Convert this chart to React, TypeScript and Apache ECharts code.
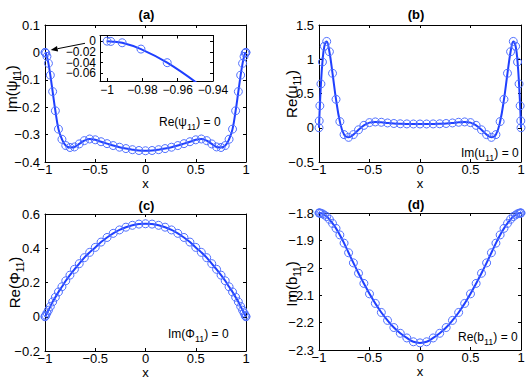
import React, { useEffect, useRef } from 'react';
import * as echarts from 'echarts';

// Collocation abscissae (shared by all panels)
const X = [-1, -0.99786, -0.99144, -0.98079, -0.96593, -0.94693, -0.92388, -0.89687, -0.86603, -0.83147, -0.79335, -0.75184, -0.70711, -0.65935, -0.60876, -0.55557, -0.5, -0.44229, -0.38268, -0.32144, -0.25882, -0.19509, -0.13053, -0.0654, 0, 0.0654, 0.13053, 0.19509, 0.25882, 0.32144, 0.38268, 0.44229, 0.5, 0.55557, 0.60876, 0.65935, 0.70711, 0.75184, 0.79335, 0.83147, 0.86603, 0.89687, 0.92388, 0.94693, 0.96593, 0.98079, 0.99144, 0.99786, 1];

// (a) Im(psi_11)
const PSI_IM = [0, -0.0005, -0.003, -0.0147, -0.04, -0.083, -0.143, -0.213, -0.28, -0.317, -0.34, -0.347, -0.345, -0.334, -0.322, -0.316, -0.319, -0.326, -0.333, -0.34, -0.346, -0.351, -0.355, -0.358, -0.359,
  -0.358, -0.355, -0.351, -0.346, -0.34, -0.333, -0.326, -0.319, -0.316, -0.322, -0.334, -0.345, -0.347, -0.34, -0.317, -0.28, -0.213, -0.143, -0.083, -0.04, -0.0147, -0.003, -0.0005, 0];

// (b) Re(u_11)
const U_RE = [0, 0.1, 0.32, 0.64, 0.96, 1.19, 1.26, 1.11, 0.795, 0.415, 0.09, -0.1, -0.14, -0.1, -0.03, 0.035, 0.075, 0.085, 0.08, 0.07, 0.062, 0.058, 0.056, 0.055, 0.055,
  0.055, 0.056, 0.058, 0.062, 0.07, 0.08, 0.085, 0.075, 0.035, -0.03, -0.1, -0.14, -0.1, 0.09, 0.415, 0.795, 1.11, 1.26, 1.19, 0.96, 0.64, 0.32, 0.1, 0];

// (c) Re(Phi_11)
const PHI_RE = [0, 0.003, 0.009, 0.022, 0.038, 0.06, 0.087, 0.114, 0.145, 0.175, 0.21, 0.243, 0.277, 0.31, 0.345, 0.376, 0.405, 0.436, 0.463, 0.487, 0.507, 0.523, 0.534, 0.541, 0.543,
  0.541, 0.534, 0.523, 0.507, 0.487, 0.463, 0.436, 0.405, 0.376, 0.345, 0.31, 0.277, 0.243, 0.21, 0.175, 0.145, 0.114, 0.087, 0.06, 0.038, 0.022, 0.009, 0.003, 0];

// (d) Im(b_11)
const B_IM = [-1.8, -1.8, -1.8, -1.801, -1.803, -1.807, -1.813, -1.823, -1.838, -1.856, -1.88, -1.91, -1.945, -1.982, -2.02, -2.057, -2.095, -2.13, -2.163, -2.192, -2.218, -2.239, -2.256, -2.27, -2.274,
  -2.27, -2.256, -2.239, -2.218, -2.192, -2.163, -2.13, -2.095, -2.057, -2.02, -1.982, -1.945, -1.91, -1.88, -1.856, -1.838, -1.823, -1.813, -1.807, -1.803, -1.801, -1.8, -1.8, -1.8];

const INSET_X_TICKS = [-1, -0.98, -0.96, -0.94];
const INSET_Y_TICKS = [0, -0.02, -0.04, -0.06];

const FONT = '"Liberation Sans", Arial, Helvetica, sans-serif';
const LINE_COLOR = '#1f3fff';
const MARK_COLOR = '#5070ff';

function fmt(v: number) {
  return String(parseFloat(v.toFixed(4))).replace('-', '\u2212');
}

const PANELS = [
  { grid: { left: 45, top: 25, width: 201, height: 137 }, yMin: -0.4, yMax: 0.1, yStep: 0.1, data: PSI_IM,
    yName: ['Im(\u03c8', '11', ')'], yx: 11, yy: 89,
    title: '(a)', tx: 146.5, ty: 14, note: ['Re(\u03c8', '11', ') = 0'], nx: 159, ny: 122 },
  { grid: { left: 319, top: 25, width: 202, height: 137 }, yMin: -0.5, yMax: 1.5, yStep: 0.5, data: U_RE,
    yName: ['Re(u', '11', ')'], yx: 291, yy: 94,
    title: '(b)', tx: 416, ty: 14, note: ['Im(u', '11', ') = 0'], nx: 461, ny: 153 },
  { grid: { left: 45, top: 214, width: 201, height: 137 }, yMin: -0.2, yMax: 0.6, yStep: 0.2, data: PHI_RE,
    yName: ['Re(\u03a6', '11', ')'], yx: 14.5, yy: 282.5,
    title: '(c)', tx: 146.5, ty: 205, note: ['Im(\u03a6', '11', ') = 0'], nx: 168, ny: 334 },
  { grid: { left: 319, top: 213, width: 202, height: 137 }, yMin: -2.3, yMax: -1.8, yStep: 0.1, data: B_IM,
    yName: ['Im(b', '11', ')'], yx: 291, yy: 284,
    title: '(d)', tx: 416, ty: 204.5, note: ['Re(b', '11', ') = 0'], nx: 458, ny: 337 },
];

const INSET_GRID = { left: 100, top: 35.5, width: 113, height: 45.5 };
const INSET_X_RANGE = [-1.004, -0.94];
const INSET_Y_RANGE = [-0.074, 0.0105];

const axisLine = { show: true, onZero: false, lineStyle: { color: '#000', width: 1 } };
const tickIn = { show: true, inside: true, length: 3, lineStyle: { color: '#000', width: 1 } };

function richLabel(parts: string[]) {
  return `{n|${parts[0]}}{s|${parts[1]}}{n|${parts[2]}}`;
}

function buildOption() {
  const grid: any[] = [];
  const xAxis: any[] = [];
  const yAxis: any[] = [];
  const series: any[] = [];
  const graphic: any[] = [];

  const seriesStyle = {
    type: 'line',
    smooth: 0.4,
    symbol: 'circle',
    symbolSize: 8,
    showAllSymbol: true,
    silent: true,
    clip: true,
    lineStyle: { color: LINE_COLOR, width: 2 },
    itemStyle: { color: 'rgba(0,0,0,0)', borderColor: MARK_COLOR, borderWidth: 1 },
  };

  PANELS.forEach((p, g) => {
    grid.push({ ...p.grid, outerBoundsMode: 'none', containLabel: false });
    xAxis.push({
      gridIndex: g, type: 'value', position: 'bottom', min: -1, max: 1, interval: 0.5,
      axisLine, axisTick: tickIn, splitLine: { show: false },
      axisLabel: { formatter: fmt, color: '#000', fontSize: 13, fontFamily: FONT, margin: 1 },
      name: 'x', nameLocation: 'middle', nameGap: 14,
      nameTextStyle: { color: '#000', fontSize: 13, fontFamily: FONT },
    });
    xAxis.push({
      gridIndex: g, type: 'value', position: 'top', min: -1, max: 1, interval: 0.5,
      axisLine, axisTick: tickIn, splitLine: { show: false }, axisLabel: { show: false },
    });
    yAxis.push({
      gridIndex: g, type: 'value', position: 'left', min: p.yMin, max: p.yMax, interval: p.yStep,
      axisLine, axisTick: tickIn, splitLine: { show: false },
      axisLabel: { formatter: fmt, color: '#000', fontSize: 13, fontFamily: FONT, margin: 5 },
    });
    yAxis.push({
      gridIndex: g, type: 'value', position: 'right', min: p.yMin, max: p.yMax, interval: p.yStep,
      axisLine, axisTick: tickIn, splitLine: { show: false }, axisLabel: { show: false },
    });
    series.push({
      ...seriesStyle,
      xAxisIndex: 2 * g, yAxisIndex: 2 * g,
      data: X.map((x, i) => [x, p.data[i]]),
    });
    graphic.push({
      id: `yname${g}`, type: 'text', x: p.yx, y: p.yy, rotation: Math.PI / 2, silent: true,
      style: {
        text: richLabel(p.yName), fill: '#000', font: `15px ${FONT}`,
        align: 'center', verticalAlign: 'middle', textAlign: 'center', textVerticalAlign: 'middle',
        rich: {
          n: { fontSize: 15, lineHeight: 22, fontFamily: FONT, fill: '#000' },
          s: { fontSize: 10, verticalAlign: 'bottom', fontFamily: FONT, fill: '#000' },
        },
      },
    });
    graphic.push({
      id: `title${g}`, type: 'text', x: p.tx, y: p.ty, silent: true,
      style: {
        text: p.title, fill: '#000', font: `bold 13px ${FONT}`,
        align: 'center', verticalAlign: 'middle', textAlign: 'center', textVerticalAlign: 'middle',
      },
    });
    graphic.push({
      id: `note${g}`, type: 'text', x: p.nx, y: p.ny, silent: true,
      style: {
        text: richLabel(p.note), fill: '#000', font: `12px ${FONT}`,
        align: 'left', verticalAlign: 'middle', textAlign: 'left', textVerticalAlign: 'middle',
        rich: {
          n: { fontSize: 12, lineHeight: 18, fontFamily: FONT, fill: '#000' },
          s: { fontSize: 9, verticalAlign: 'bottom', fontFamily: FONT, fill: '#000' },
        },
      },
    });
  });

  // inset of panel (a)
  const gi = PANELS.length;
  grid.push({ ...INSET_GRID, show: true, backgroundColor: '#fff', borderWidth: 0, outerBoundsMode: 'none', containLabel: false });
  xAxis.push({
    gridIndex: gi, type: 'value', position: 'bottom', min: INSET_X_RANGE[0], max: INSET_X_RANGE[1],
    axisLine, axisTick: { ...tickIn, customValues: INSET_X_TICKS }, splitLine: { show: false },
    axisLabel: { customValues: INSET_X_TICKS, formatter: fmt, color: '#000', fontSize: 12, fontFamily: FONT, margin: 3 },
  });
  xAxis.push({
    gridIndex: gi, type: 'value', position: 'top', min: INSET_X_RANGE[0], max: INSET_X_RANGE[1],
    axisLine, axisTick: { ...tickIn, customValues: INSET_X_TICKS }, splitLine: { show: false }, axisLabel: { show: false },
  });
  yAxis.push({
    gridIndex: gi, type: 'value', position: 'left', min: INSET_Y_RANGE[0], max: INSET_Y_RANGE[1],
    axisLine, axisTick: { ...tickIn, customValues: INSET_Y_TICKS }, splitLine: { show: false },
    axisLabel: { show: false },
  });
  yAxis.push({
    gridIndex: gi, type: 'value', position: 'right', min: INSET_Y_RANGE[0], max: INSET_Y_RANGE[1],
    axisLine, axisTick: { ...tickIn, customValues: INSET_Y_TICKS }, splitLine: { show: false }, axisLabel: { show: false },
  });
  series.push({
    ...seriesStyle,
    xAxisIndex: 2 * gi, yAxisIndex: 2 * gi,
    data: X.map((x, i) => [x, PSI_IM[i]]),
  });

  // arrow from the inset to the point (-1, 0) of panel (a)
  graphic.push({
    id: 'arrowLine', type: 'line', silent: true,
    shape: { x1: 85, y1: 43.3, x2: 57.6, y2: 48.7 },
    style: { stroke: '#000', lineWidth: 1 },
  });
  graphic.push({
    id: 'arrowHead', type: 'polygon', silent: true,
    shape: { points: [[50.7, 50], [58.1, 51.4], [57.0, 45.9]] },
    style: { fill: '#000' },
  });

  return {
    animation: false,
    backgroundColor: '#fff',
    textStyle: { fontFamily: FONT },
    grid, xAxis, yAxis, series, graphic,
  };
}

export default function App() {
  const ref = useRef<HTMLDivElement>(null);
  useEffect(() => {
    const chart = echarts.init(ref.current!, null, { renderer: 'svg' });
    const option: any = buildOption();
    chart.setOption(option);
    // inset y tick labels, placed through the inset's own y scale
    const gi = PANELS.length;
    const labels = INSET_Y_TICKS.map((v, k) => {
      const pt = chart.convertToPixel({ xAxisIndex: 2 * gi, yAxisIndex: 2 * gi } as any, [INSET_X_RANGE[0], v]) as number[];
      return {
        id: `insetY${k}`, type: 'text', x: pt[0] - 4, y: pt[1], silent: true,
        style: {
          text: fmt(v), fill: '#000', font: `12px ${FONT}`,
          align: 'right', verticalAlign: 'middle', textAlign: 'right', textVerticalAlign: 'middle',
        },
      };
    });
    chart.setOption({ graphic: [...option.graphic, ...labels] });
    return () => chart.dispose();
  }, []);
  return (
    <div
      ref={ref}
      style={{ position: 'fixed', left: 0, top: 0, width: 532, height: 382, background: '#fff' }}
    />
  );
}
